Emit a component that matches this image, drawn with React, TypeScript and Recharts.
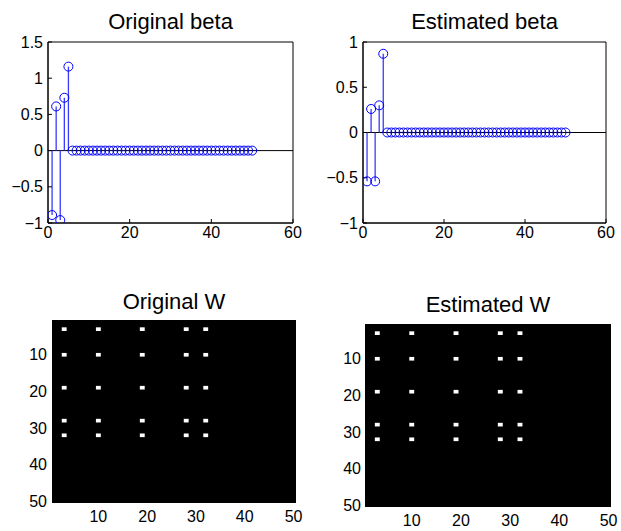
import {
  ComposedChart,
  ErrorBar,
  ReferenceArea,
  ReferenceLine,
  Scatter,
  XAxis,
  YAxis,
} from "recharts";

// stem index 1..50
const idx = Array.from({ length: 50 }, (_, i) => i + 1);

// original beta: 5 non-zero coefficients, rest are 0
const origBetaHead = [-0.89, 0.61, -0.96, 0.73, 1.16];
// estimated beta
const estBetaHead = [-0.54, 0.26, -0.54, 0.3, 0.87];

const betaXTicks = [0, 20, 40, 60];
const origBetaYTicks = [-1, -0.5, 0, 0.5, 1, 1.5];
const estBetaYTicks = [-1, -0.5, 0, 0.5, 1];

// W matrices (50x50): rows / columns holding the white cells
const origWRows = [3, 10, 19, 28, 32];
const origWCols = [3, 10, 19, 28, 32];
const estWRows = [3, 10, 19, 28, 32];
const estWCols = [3, 10, 19, 28, 32];
const wTicks = [10, 20, 30, 40, 50];

const FONT = '"Liberation Sans", Arial, Helvetica, sans-serif';
const BLUE = "#0000ff";
const TICK = { fill: "#000", fontSize: 16, fontFamily: FONT };

const fmt = (v: number) => (v < 0 ? `\u2212${Math.abs(v)}` : String(v));
const blank = () => "";
const nothing = () => <g />;

// each stem runs from the value back to 0: asymmetric error [down, up]
function stemRows(head: number[]) {
  return idx.map((i) => {
    const v = i <= head.length ? head[i - 1] : 0;
    return { i, v, stem: v >= 0 ? [v, 0] : [0, -v] };
  });
}

function Ring(props: any) {
  const { cx, cy } = props;
  if (cx == null || cy == null) return <g />;
  return <circle cx={cx} cy={cy} r={4.5} fill="none" stroke={BLUE} strokeWidth={1} />;
}

function Title({ text, left, top, width }: { text: string; left: number; top: number; width: number }) {
  return (
    <div
      style={{
        position: "absolute",
        left,
        top,
        width,
        textAlign: "center",
        fontFamily: FONT,
        fontSize: 22,
        lineHeight: "22px",
        color: "#000",
        whiteSpace: "nowrap",
      }}
    >
      {text}
    </div>
  );
}

type StemProps = {
  head: number[];
  yDomain: [number, number];
  yTicks: number[];
  left: number;
  width: number;
  yAxisWidth: number;
  right: number;
};

function StemPlot({ head, yDomain, yTicks, left, width, yAxisWidth, right }: StemProps) {
  const data = stemRows(head);
  return (
    <div style={{ position: "absolute", left, top: 0 }}>
      <ComposedChart
        width={width}
        height={260}
        data={data}
        margin={{ top: 42, right, bottom: 7, left: 0 }}
      >
        <XAxis
          dataKey="i"
          type="number"
          domain={[0, 60]}
          ticks={betaXTicks}
          allowDataOverflow
          height={30}
          stroke="#000"
          tickSize={-4}
          tickMargin={8}
          tick={TICK}
        />
        <XAxis
          xAxisId="top"
          dataKey="i"
          orientation="top"
          type="number"
          domain={[0, 60]}
          ticks={betaXTicks}
          allowDataOverflow
          height={0}
          stroke="#000"
          tickSize={-4}
          tickFormatter={blank}
        />
        <YAxis
          type="number"
          domain={yDomain}
          ticks={yTicks}
          allowDataOverflow
          width={yAxisWidth}
          stroke="#000"
          tickSize={-4}
          tickMargin={9}
          tick={TICK}
          tickFormatter={fmt}
        />
        <YAxis
          yAxisId="right"
          orientation="right"
          type="number"
          domain={yDomain}
          ticks={yTicks}
          allowDataOverflow
          width={0}
          stroke="#000"
          tickSize={-4}
          tickFormatter={blank}
        />
        <ReferenceArea
          x1={0}
          x2={60}
          y1={yDomain[0]}
          y2={yDomain[1]}
          fill="none"
          stroke="#000"
          strokeWidth={1}
          ifOverflow="visible"
        />
        <ReferenceLine y={0} stroke="#000" strokeWidth={1} />
        <Scatter dataKey="v" shape={Ring} isAnimationActive={false}>
          <ErrorBar dataKey="stem" direction="y" width={0} stroke="#3a3aff" strokeWidth={1.3} isAnimationActive={false} />
        </Scatter>
        <Scatter
          dataKey="v"
          xAxisId="top"
          yAxisId="right"
          shape={nothing}
          isAnimationActive={false}
        />
      </ComposedChart>
    </div>
  );
}

type MatProps = {
  rows: number[];
  cols: number[];
  left: number;
  width: number;
  top: number;
  yAxisWidth: number;
  right: number;
  xHeight: number;
  yMargin: number;
};

function MatrixPlot({ rows, cols, left, width, top, yAxisWidth, right, xHeight, yMargin }: MatProps) {
  const cells = rows.flatMap((r) => cols.map((c) => ({ r, c })));
  return (
    <div style={{ position: "absolute", left, top: 270 }}>
      <ComposedChart
        width={width}
        height={261}
        data={cells}
        margin={{ top, right, bottom: 261 - top - 183 - xHeight, left: 0 }}
      >
        <XAxis
          dataKey="c"
          type="number"
          domain={[0.5, 50.5]}
          ticks={wTicks}
          allowDataOverflow
          height={xHeight}
          axisLine={false}
          tickLine={false}
          tickSize={0}
          tickMargin={8}
          tick={TICK}
        />
        <YAxis
          dataKey="r"
          type="number"
          reversed
          domain={[0.5, 50.5]}
          ticks={wTicks}
          allowDataOverflow
          width={yAxisWidth}
          axisLine={false}
          tickLine={false}
          tickSize={0}
          tickMargin={yMargin}
          tick={TICK}
        />
        <ReferenceArea x1={0.5} x2={50.5} y1={0.5} y2={50.5} fill="#000" fillOpacity={1} stroke="none" />
        {cells.map(({ r, c }) => (
          <ReferenceArea
            key={`${r}-${c}`}
            x1={c - 0.5}
            x2={c + 0.5}
            y1={r - 0.5}
            y2={r + 0.5}
            fill="#fff"
            fillOpacity={1}
            stroke="none"
          />
        ))}
        <Scatter dataKey="r" shape={nothing} isAnimationActive={false} />
      </ComposedChart>
    </div>
  );
}

export default function App() {
  return (
    <div
      style={{
        position: "absolute",
        left: 0,
        top: 0,
        width: 621,
        height: 531,
        background: "#fff",
        overflow: "hidden",
      }}
    >
      <Title text="Original beta" left={48} top={11} width={245} />
      <Title text="Estimated beta" left={363} top={11} width={243} />
      <Title text="Original W" left={52} top={291} width={244} />
      <Title text="Estimated W" left={365} top={294} width={246} />
      <StemPlot
        head={origBetaHead}
        yDomain={[-1, 1.5]}
        yTicks={origBetaYTicks}
        left={0}
        width={310}
        yAxisWidth={48}
        right={17}
      />
      <StemPlot
        head={estBetaHead}
        yDomain={[-1, 1]}
        yTicks={estBetaYTicks}
        left={310}
        width={311}
        yAxisWidth={53}
        right={15}
      />
      <MatrixPlot
        rows={origWRows}
        cols={origWCols}
        left={0}
        width={310}
        top={50}
        yAxisWidth={52}
        right={14}
        xHeight={25}
        yMargin={5}
      />
      <MatrixPlot
        rows={estWRows}
        cols={estWCols}
        left={310}
        width={311}
        top={54}
        yAxisWidth={55}
        right={10}
        xHeight={22}
        yMargin={4}
      />
    </div>
  );
}
